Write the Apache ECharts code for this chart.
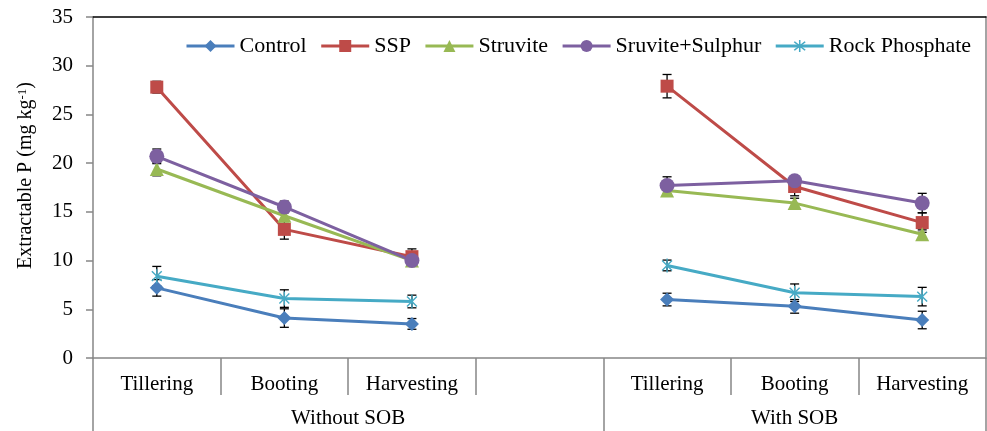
<!DOCTYPE html>
<html>
<head>
<meta charset="utf-8">
<script src="https://cdn.jsdelivr.net/npm/echarts@6/dist/echarts.min.js"></script>
<style>
  html, body { margin: 0; padding: 0; background: #fff; }
  #chart { width: 987px; height: 431px; }
</style>
</head>
<body>
<div id="chart"></div>
<script>
// Growth stages on the x axis; index 3 is an empty spacer between the two groups
const categories = ['Tillering', 'Booting', 'Harvesting', '', 'Tillering', 'Booting', 'Harvesting'];
const groupNames = ['Without SOB', 'With SOB'];
const groupFirst = [0, 4];
const groupLast = [3, 6];

const yTicks = [0, 5, 10, 15, 20, 25, 30, 35];

// Extractable P (mg kg-1) and error bar half-lengths per treatment
const seriesNames = ['Control', 'SSP', 'Struvite', 'Sruvite+Sulphur', 'Rock Phosphate'];
const control    = [7.2, 4.1, 3.5, null, 6.0, 5.3, 3.9];
const controlErr = [0.85, 0.95, 0.55, null, 0.65, 0.7, 0.9];
const ssp        = [27.8, 13.2, 10.4, null, 27.9, 17.6, 13.9];
const sspErr     = [0.6, 1.0, 0.8, null, 1.2, 0.95, 1.0];
const struvite   = [19.4, 14.6, 10.0, null, 17.2, 15.9, 12.7];
const struviteErr= [0.7, 0.6, 0.5, null, 0.45, 0.5, 0.45];
const sulphur    = [20.7, 15.5, 10.0, null, 17.7, 18.2, 15.9];
const sulphurErr = [0.75, 0.6, 0.5, null, 0.9, 0.5, 1.0];
const rock       = [8.4, 6.1, 5.8, null, 9.5, 6.7, 6.3];
const rockErr    = [1.0, 0.9, 0.65, null, 0.55, 0.9, 0.95];

const values = [control, ssp, struvite, sulphur, rock];
const errors = [controlErr, sspErr, struviteErr, sulphurErr, rockErr];
const colors = ['#4a7ebb', '#be4b48', '#98b954', '#7d60a0', '#46aac5'];

// asterisk marker: vertical bar plus two diagonals
const asterisk = 'path://M-1,-10L1,-10L1,10L-1,10Z' +
  'M-7.78,-6.36L-6.36,-7.78L7.78,6.36L6.36,7.78Z' +
  'M7.78,-6.36L-6.36,7.78L-7.78,6.36L6.36,-7.78Z';
const symbols = ['diamond', 'rect', 'triangle', 'circle', asterisk];
const symbolSizes = [14, 13, 14, 15, 14];

const FONT = '"Liberation Serif", "Times New Roman", serif';
const GRID_GRAY = '#868686';

const groupCenters = groupFirst.map((f, i) => (f + groupLast[i]) / 2);
const groupEdges = [groupFirst[0] - 0.5].concat(groupLast.map(l => l + 0.5));

const lineSeries = seriesNames.map((name, i) => ({
  name: name,
  type: 'line',
  data: values[i],
  connectNulls: false,
  symbol: symbols[i],
  symbolSize: symbolSizes[i],
  symbolKeepAspect: true,
  lineStyle: { color: colors[i], width: 3 },
  itemStyle: { color: colors[i] },
  z: 3,
  animation: false
}));

const errorSeries = seriesNames.map((name, i) => ({
  name: name + ' SE',
  type: 'custom',
  z: 2,
  data: values[i].map((v, k) => v == null ? null : [k, v - errors[i][k], v + errors[i][k]])
                 .filter(d => d !== null),
  encode: { x: 0, y: [1, 2] },
  renderItem: function (params, api) {
    const x = api.value(0);
    const lo = api.coord([x, api.value(1)]);
    const hi = api.coord([x, api.value(2)]);
    const cap = 4.5;
    const style = { stroke: '#000', lineWidth: 1.3 };
    return {
      type: 'group',
      children: [
        { type: 'line', shape: { x1: lo[0], y1: lo[1], x2: hi[0], y2: hi[1] }, style: style },
        { type: 'line', shape: { x1: lo[0] - cap, y1: lo[1], x2: lo[0] + cap, y2: lo[1] }, style: style },
        { type: 'line', shape: { x1: hi[0] - cap, y1: hi[1], x2: hi[0] + cap, y2: hi[1] }, style: style }
      ]
    };
  },
  animation: false
}));

const chart = echarts.init(document.getElementById('chart'), null, { renderer: 'canvas' });

chart.setOption({
  backgroundColor: '#fff',
  animation: false,
  textStyle: { fontFamily: FONT, color: '#000' },
  legend: {
    data: seriesNames,
    left: 185,
    top: 35,
    width: 800,
    padding: 0,
    itemWidth: 48,
    itemHeight: 15,
    itemGap: 13,
    lineStyle: { width: 3 },
    textStyle: { fontFamily: FONT, fontSize: 22, color: '#000' }
  },
  grid: { left: 93, right: 1, top: 17, bottom: 73, containLabel: false },
  xAxis: [
    {
      type: 'category',
      data: categories,
      boundaryGap: true,
      position: 'bottom',
      axisLine: { onZero: false, lineStyle: { color: GRID_GRAY, width: 1.5 } },
      axisTick: { show: true, interval: 0, length: 37, lineStyle: { color: GRID_GRAY, width: 1.5 } },
      axisLabel: { interval: 0, margin: 16, fontFamily: FONT, fontSize: 21, color: '#000' },
      splitLine: { show: false }
    },
    {
      type: 'value',
      min: groupEdges[0],
      max: groupEdges[groupEdges.length - 1],
      position: 'bottom',
      axisLine: { show: false, onZero: false },
      axisTick: { show: true, customValues: groupEdges, length: 73, lineStyle: { color: GRID_GRAY, width: 1.5 } },
      axisLabel: {
        customValues: groupCenters,
        margin: 50,
        fontFamily: FONT, fontSize: 21, color: '#000',
        formatter: function (v) {
          const idx = groupCenters.indexOf(v);
          return idx >= 0 ? groupNames[idx] : '';
        }
      },
      splitLine: { show: false }
    },
    {
      type: 'value',
      min: 0, max: 1,
      position: 'top',
      axisLine: { show: true, onZero: false, lineStyle: { color: '#000', width: 1.5 } },
      axisTick: { show: false },
      axisLabel: { show: false },
      splitLine: { show: false }
    }
  ],
  yAxis: [
    {
      type: 'value',
      position: 'left',
      min: yTicks[0],
      max: yTicks[yTicks.length - 1],
      interval: yTicks[1] - yTicks[0],
      axisLine: { show: true, onZero: false, lineStyle: { color: GRID_GRAY, width: 1.5 } },
      axisTick: { show: true, length: 7, lineStyle: { color: GRID_GRAY, width: 1.5 } },
      axisLabel: { margin: 20, fontFamily: FONT, fontSize: 21, color: '#000' },
      splitLine: { show: false },
      name: 'Extractable P (mg kg{s|-1})',
      nameLocation: 'middle',
      nameRotate: 90,
      nameGap: 57,
      nameTextStyle: {
        fontFamily: FONT, fontSize: 20, color: '#000',
        padding: [0, 0, 0, 24],
        rich: { s: { fontFamily: FONT, fontSize: 13, verticalAlign: 'top', color: '#000' } }
      }
    },
    {
      type: 'value',
      min: yTicks[0],
      max: yTicks[yTicks.length - 1],
      position: 'right',
      axisLine: { show: true, onZero: false, lineStyle: { color: GRID_GRAY, width: 1.5 } },
      axisTick: { show: false },
      axisLabel: { show: false },
      splitLine: { show: false }
    }
  ],
  series: errorSeries.concat(lineSeries)
});
</script>
</body>
</html>
